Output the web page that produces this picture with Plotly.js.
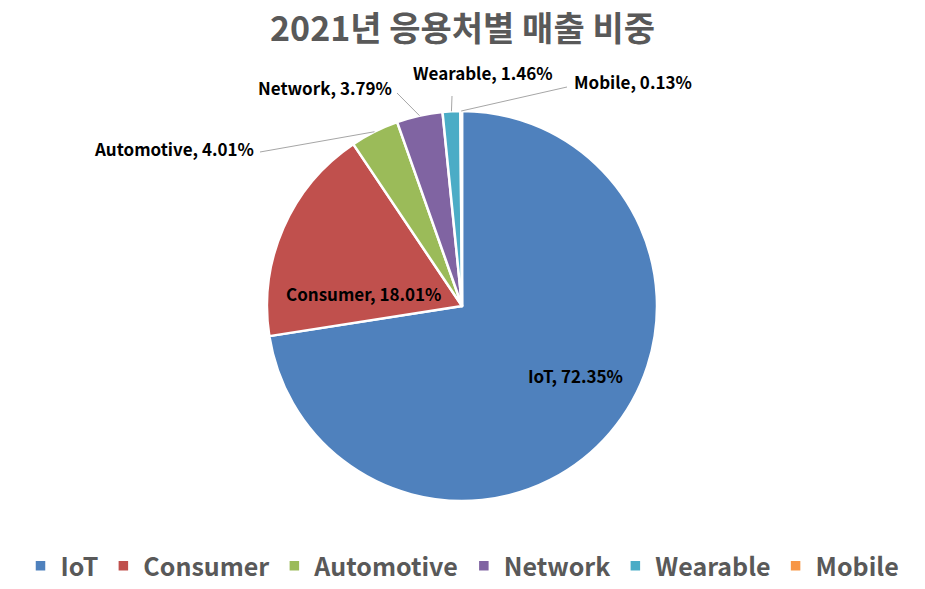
<!DOCTYPE html>
<html><head><meta charset="utf-8">
<script src="https://cdn.plot.ly/plotly-3.0.1.min.js"></script>
<style>html,body{margin:0;padding:0;background:#fff}</style>
</head><body>
<div id="chart" style="width:925px;height:589px"></div>
<script>
// Data
var categories = ["IoT", "Consumer", "Automotive", "Network", "Wearable", "Mobile"];
var shares = [72.35, 18.01, 4.01, 3.79, 1.46, 0.13];
var colors = ["#4f81bd", "#c0504d", "#9bbb59", "#8064a2", "#4bacc6", "#f79646"];
var titleText = "2021년 응용처별 매출 비중";

// Layout geometry (pixels)
var W = 925, H = 589;
var CX = 462, CY = 306, R = 195;
function px(x){ return x / W; }
function py(y){ return (H - y) / H; }

// Label placement: [text center x, text center y, leader start x, leader start y, inside?]
var labelPlace = [
  [575, 375, null, null, true],
  [363, 293, null, null, true],
  [174, 148, 260, 152, false],
  [325, 88, 397, 93, false],
  [483, 73, 452, 96, false],
  [633, 82, 567, 87, false]
];

var total = shares.reduce(function(a,b){return a+b;}, 0);
var cum = 0;
var annotations = [], shapes = [];
for (var i = 0; i < categories.length; i++) {
  var mid = (cum + shares[i] / 2) / total * 2 * Math.PI;
  cum += shares[i];
  var lp = labelPlace[i];
  annotations.push({
    x: px(lp[0]), y: py(lp[1]), xref: 'paper', yref: 'paper',
    xanchor: 'center', yanchor: 'middle', showarrow: false,
    text: '<b>' + categories[i] + ', ' + shares[i].toFixed(2) + '%</b>',
    font: {family: 'Noto Sans CJK KR, Noto Sans, sans-serif', size: 17, color: '#000'}
  });
  if (!lp[4]) {
    var tx = CX + R * Math.sin(mid), ty = CY - R * Math.cos(mid);
    shapes.push({type: 'line', xref: 'paper', yref: 'paper',
      x0: px(lp[2]), y0: py(lp[3]), x1: px(tx), y1: py(ty),
      line: {color: '#a6a6a6', width: 1}});
  }
}

var trace = {
  type: 'pie',
  labels: categories,
  values: shares,
  sort: false,
  direction: 'clockwise',
  rotation: 0,
  marker: {colors: colors, line: {color: '#ffffff', width: 2.5}},
  textinfo: 'none',
  hoverinfo: 'label+percent',
  domain: {x: [px(CX - R), px(CX + R)], y: [py(CY + R), py(CY - R)]}
};

var layout = {
  width: W, height: H,
  margin: {l: 0, r: 0, t: 0, b: 0, autoexpand: false},
  paper_bgcolor: '#fff',
  title: {text: '<b>' + titleText + '</b>', x: 0.5, xanchor: 'center',
    y: py(29), yanchor: 'middle', yref: 'paper',
    font: {family: 'Noto Sans CJK KR, sans-serif', size: 34, color: '#595959'}},
  showlegend: true,
  legend: {orientation: 'h', x: 0.5, xanchor: 'center', y: 0, yanchor: 'bottom',
    tracegroupgap: 0,
    font: {family: 'Noto Sans CJK KR, sans-serif', size: 25, color: '#595959', weight: 'bold'}},
  annotations: annotations,
  shapes: shapes
};

Plotly.newPlot('chart', [trace], layout, {displayModeBar: false, staticPlot: true});
</script>
</body></html>
